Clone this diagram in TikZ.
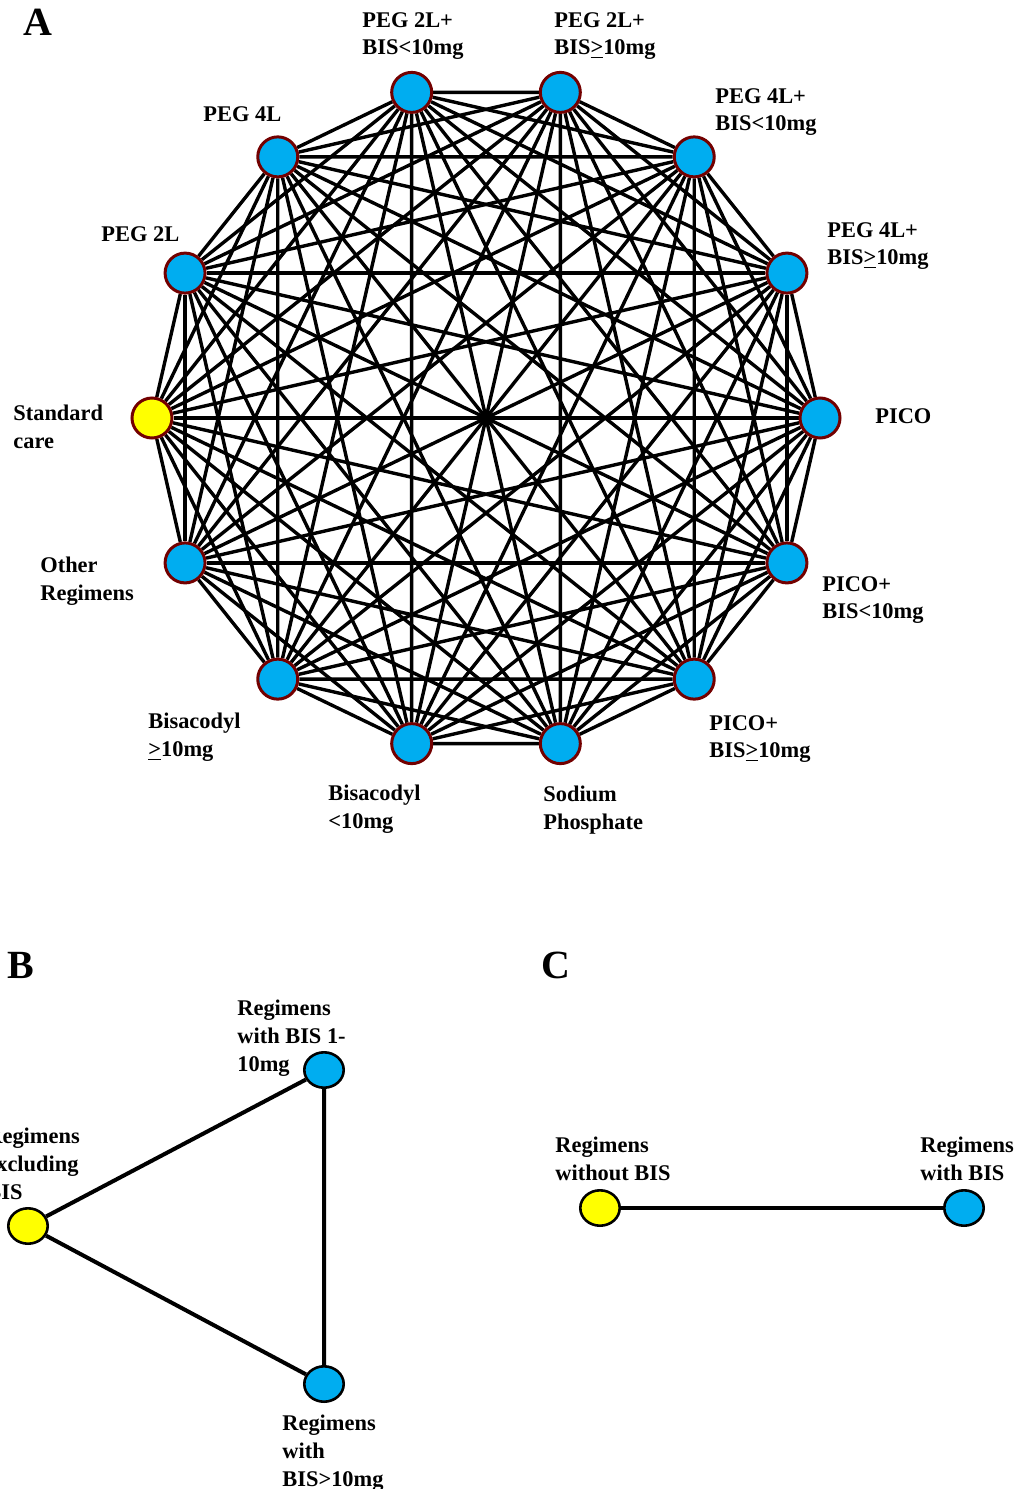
\documentclass[tikz,border=0pt]{standalone}
\usepackage{fontspec}
\setmainfont{Liberation Serif}
\usetikzlibrary{calc,shapes.geometric}
\definecolor{NodeClr}{rgb}{0,0.68,0.94}
\definecolor{RefClr}{rgb}{1,1,0}
\definecolor{RimClr}{rgb}{0.45,0,0}
\newcommand{\GeBar}{\underline{>}}
\pgfdeclarelayer{back}
\pgfsetlayers{back,main}

\begin{document}
\begin{tikzpicture}[x=0.5pt,y=-0.5pt,
 trt/.style={circle,draw=RimClr,line width=1.5pt,fill=NodeClr,minimum size=20pt,inner sep=0pt},
 grp/.style={ellipse,draw=black,line width=1.3pt,fill=NodeClr,minimum width=19.7pt,minimum height=17.7pt,inner sep=0pt},
 lbl/.style={anchor=north west,inner sep=0pt,align=left,font=\bfseries\fontsize{11.2}{13.8}\selectfont},
 panel/.style={anchor=north west,inner sep=0pt,font=\bfseries\fontsize{20}{24}\selectfont},
 link/.style={line width=1.7pt},
 glink/.style={line width=2pt}]
\useasboundingbox (0,0) rectangle (1019,1489);

\coordinate (O) at (486,418);
\foreach \i in {0,...,6} \node[trt] (t\i) at ($(O)+(\i*360/14:334)$) {};
\foreach \i in {8,...,13} \node[trt] (t\i) at ($(O)+(\i*360/14:334)$) {};
\node[trt,fill=RefClr] (t7) at ($(O)+(180:334)$) {};
\begin{pgfonlayer}{back}
\foreach \i in {0,...,12}{
 \pgfmathtruncatemacro\k{\i+1}
 \foreach \j in {\k,...,13} \draw[link] (t\i) -- (t\j);
}
\end{pgfonlayer}

\node[lbl] (l0) at (875,408) {PICO};
\node[lbl] (l1) at (822,576) {PICO+\\BIS<10mg};
\node[lbl] (l2) at (709,715) {PICO+\\BIS\GeBar10mg};
\node[lbl] (l3) at (543,786) {Sodium\\Phosphate};
\node[lbl] (l4) at (328,785) {Bisacodyl\\<10mg};
\node[lbl] (l5) at (148,713) {Bisacodyl\\\GeBar10mg};
\node[lbl] (l6) at (40,557) {Other\\Regimens};
\node[lbl] (l7) at (13,405) {Standard\\care};
\node[lbl] (l8) at (101,226) {PEG 2L};
\node[lbl] (l9) at (203,106) {PEG 4L};
\node[lbl] (l10) at (362,12) {PEG 2L+\\BIS<10mg};
\node[lbl] (l11) at (554,12) {PEG 2L+\\BIS\GeBar10mg};
\node[lbl] (l12) at (715,88) {PEG 4L+\\BIS<10mg};
\node[lbl] (l13) at (827,222) {PEG 4L+\\BIS\GeBar10mg};

\node[panel] (pA) at (23,9) {A};
\node[panel] (pB) at (7,952) {B};
\node[panel] (pC) at (541,952) {C};

\node[grp,fill=RefClr] (b1) at (28,1226) {};
\node[grp] (b2) at (324,1070) {};
\node[grp] (b3) at (324,1384) {};
\begin{pgfonlayer}{back}
\draw[glink] (b1) -- (b2) -- (b3) -- (b1);
\end{pgfonlayer}
\node[lbl] (lb1) at (-14,1128) {Regimens\\excluding\\BIS};
\node[lbl] (lb2) at (237,1000) {Regimens\\with BIS 1-\\10mg};
\node[lbl] (lb3) at (282,1415) {Regimens\\with\\BIS>10mg};

\node[grp,fill=RefClr] (c1) at (600,1208) {};
\node[grp] (c2) at (964,1208) {};
\begin{pgfonlayer}{back}
\draw[glink] (c1) -- (c2);
\end{pgfonlayer}
\node[lbl] (lc1) at (555,1137) {Regimens\\without BIS};
\node[lbl] (lc2) at (920,1137) {Regimens\\with BIS};
\end{tikzpicture}
\end{document}
